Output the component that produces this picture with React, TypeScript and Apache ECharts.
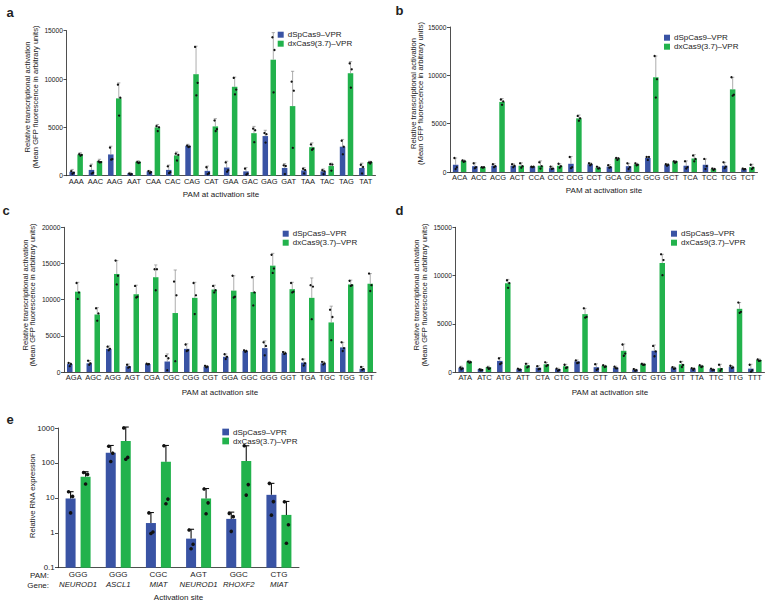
import React, { useEffect, useRef } from "react";
import * as echarts from "echarts";

const BLUE_NAME = "dSpCas9–VPR";
const GREEN_NAME = "dxCas9(3.7)–VPR";
const BLUE = "#3953a4";
const GREEN = "#22b24c";
const FONT = '"Liberation Sans", Arial, Helvetica, sans-serif';

// ---------- panel a ----------
const aCats = ["AAA","AAC","AAG","AAT","CAA","CAC","CAG","CAT","GAA","GAC","GAG","GAT","TAA","TAC","TAG","TAT"];
const aBlue = [400, 600, 2200, 250, 450, 600, 3100, 500, 850, 450, 4100, 800, 550, 450, 3000, 800];
const aBlueErr = [650, 1200, 3050, 350, 550, 1100, 3250, 1000, 1500, 850, 4700, 1250, 850, 700, 3750, 1300];
const aBlueDots = [[550,400,280],[1100,400,300],[3000,1800,1750],[300,250,200],[550,450,350],[1050,450,350],[3200,3100,3050],[950,350,250],[1450,650,500],[800,300,200],[4500,4300,3500],[1150,1000,250],[800,600,300],[650,450,250],[3700,3000,2300],[1200,900,300]];
const aGreen = [2200, 1500, 8000, 1450, 5000, 2100, 10500, 5100, 9200, 4400, 12000, 7200, 2950, 1000, 10600, 1400];
const aGreenErr = [2380, 1700, 9600, 1550, 5300, 2450, 13400, 5900, 10200, 5100, 14800, 10800, 3400, 1300, 11800, 1500];
const aGreenDots = [[2300,2250,2150],[1550,1500,1450],[9500,8150,6300],[1500,1450,1400],[5200,5100,4700],[2350,2250,1650],[13400,9700,8400],[5800,4900,4700],[10200,9000,8500],[4950,4700,3550],[14400,13000,8700],[9800,8800,2950],[3300,2800,2750],[1250,1150,600],[11700,11000,9200],[1450,1400,1350]];

// ---------- panel b ----------
const bCats = ["ACA","ACC","ACG","ACT","CCA","CCC","CCG","CCT","GCA","GCC","GCG","GCT","TCA","TCC","TCG","TCT"];
const bBlue = [750, 600, 650, 650, 550, 400, 850, 800, 550, 600, 1450, 750, 650, 750, 650, 300];
const bBlueErr = [1450, 950, 850, 850, 600, 600, 1600, 950, 750, 900, 1600, 850, 1150, 1350, 1000, 350];
const bBlueDots = [[1450,500,300],[900,500,400],[800,600,500],[800,650,500],[550,550,500],[550,350,300],[1550,500,400],[900,800,700],[700,500,450],[900,500,300],[1550,1550,1250],[800,750,650],[1100,500,350],[1350,600,300],[1000,550,400],[350,300,250]];
const bGreen = [1150, 500, 7250, 650, 650, 650, 5550, 450, 1400, 800, 9800, 1100, 1400, 300, 8550, 500];
const bGreenErr = [1250, 550, 7600, 950, 1150, 850, 5900, 550, 1500, 900, 12000, 1150, 1800, 400, 9800, 800];
const bGreenDots = [[1200,1100,1050],[500,500,450],[7500,7300,6950],[900,600,450],[1000,600,350],[850,600,450],[5800,5550,5300],[550,400,350],[1450,1400,1250],[900,750,700],[12000,9600,7700],[1100,1050,950],[1700,1350,1100],[350,300,200],[9800,8000,7900],[750,450,300]];

// ---------- panel c ----------
const cCats = ["AGA","AGC","AGG","AGT","CGA","CGC","CGG","CGT","GGA","GGC","GGG","GGT","TGA","TGC","TGG","TGT"];
const cBlue = [1100, 1200, 3200, 800, 1100, 1450, 3200, 750, 2100, 2900, 3300, 2600, 1300, 1200, 3400, 450];
const cBlueErr = [1300, 1600, 3600, 1100, 1200, 2500, 3900, 850, 2500, 3000, 4300, 2800, 1800, 1450, 4100, 750];
const cBlueDots = [[1250,1100,800],[1550,1200,1000],[3500,3200,3000],[1000,700,600],[1150,1100,1050],[2200,1900,250],[3800,3000,2900],[850,750,650],[2450,2100,1800],[3000,2900,2800],[4100,3600,2300],[2750,2600,2500],[1750,1200,900],[1400,1200,1050],[4100,3300,2900],[700,400,300]];
const cGreen = [11100, 7950, 13550, 10750, 13100, 8150, 10250, 11400, 11250, 11050, 14700, 11450, 10250, 6850, 12100, 12200];
const cGreenErr = [12400, 8900, 15400, 12000, 14800, 14100, 12400, 12000, 13300, 13200, 16400, 12400, 13000, 9100, 12700, 13600];
const cGreenDots = [[12300,11000,10100],[8800,8100,7100],[15400,13300,12100],[11900,10400,10300],[14200,14200,11300],[12500,10600,1500],[12300,10600,8000],[11900,11300,11000],[13300,10400,10300],[13100,11000,9200],[16200,14300,13700],[12300,11100,11000],[12000,11800,7300],[8600,7600,4400],[12600,12000,11900],[13600,12000,11200]];

// ---------- panel d ----------
const dCats = ["ATA","ATC","ATG","ATT","CTA","CTC","CTG","CTT","GTA","GTC","GTG","GTT","TTA","TTC","TTG","TTT"];
const dBlue = [450, 300, 1150, 300, 450, 300, 1100, 500, 450, 250, 2200, 450, 350, 300, 550, 350];
const dBlueErr = [600, 350, 1500, 350, 650, 400, 1250, 850, 600, 300, 2800, 550, 400, 350, 650, 800];
const dBlueDots = [[550,450,350],[350,300,250],[1500,1000,900],[350,300,250],[600,400,350],[350,300,200],[1200,1050,1000],[800,400,300],[550,450,400],[300,250,200],[2700,2200,1700],[500,450,400],[400,350,300],[350,300,250],[650,550,500],[750,250,100]];
const dGreen = [1100, 500, 9200, 700, 800, 600, 6000, 650, 2200, 850, 11300, 800, 650, 400, 6550, 1250];
const dGreenErr = [1200, 600, 9600, 900, 1000, 800, 6600, 700, 2900, 900, 12200, 1100, 700, 800, 7200, 1350];
const dGreenDots = [[1150,1100,1050],[550,450,400],[9600,9300,8800],[850,650,550],[1000,750,650],[750,550,500],[6600,5800,5700],[700,650,600],[2850,2000,1750],[850,850,800],[12200,11600,10100],[1050,800,600],[700,650,600],[750,300,200],[7200,6300,6200],[1300,1250,1200]];

// ---------- panel e ----------
const ePams = ["GGG", "GGG", "CGC", "AGT", "GGC", "CTG"];
const eGenes = ["NEUROD1", "ASCL1", "MIAT", "NEUROD1", "RHOXF2", "MIAT"];
const eBlue = [9.6, 196, 1.9, 0.68, 2.5, 12.2];
const eBlueErr = [15, 316, 3.8, 1.26, 3.9, 26];
const eBlueDots = [[15,11,3.7],[300,190,110],[3.7,1.05,0.95],[1.2,0.47,0.35],[3.6,2.9,1.1],[26,7.8,3.2]];
const eGreen = [40, 424, 108, 9.6, 113, 3.25];
const eGreenErr = [56, 1066, 316, 18.5, 310, 7.9];
const eGreenDots = [[53,47,25],[1000,144,127],[310,9.2,6.8],[18,7.2,3.5],[310,24,12],[7.7,1.7,0.5]];
const eTicks = [0.1, 1, 10, 100, 1000];

const Y_TITLE = "Relative transcriptional activation\n(Mean GFP fluorescence in arbitrary units)";
const X_TITLE = "PAM at activation site";

type Overlay = {
  ox: number; cap: number; stroke: string; lw: number; r: number; jit: number[];
  bar?: { w: number; color: string; base: number };
};

function makeRender(o: Overlay) {
  return (params: any, api: any) => {
    const x = api.value(0);
    const mean = api.coord([x, api.value(1)]);
    const top = api.coord([x, api.value(2)]);
    const cx = mean[0] + o.ox;
    const children: any[] = [];
    if (o.bar) {
      const b = api.coord([x, o.bar.base]);
      children.push({
        type: "rect",
        shape: { x: cx - o.bar.w / 2, y: mean[1], width: o.bar.w, height: b[1] - mean[1] },
        style: { fill: o.bar.color },
      });
    }
    children.push({ type: "line", shape: { x1: cx, y1: mean[1], x2: cx, y2: top[1] }, style: { stroke: o.stroke, lineWidth: o.lw } });
    children.push({ type: "line", shape: { x1: cx - o.cap, y1: top[1], x2: cx + o.cap, y2: top[1] }, style: { stroke: o.stroke, lineWidth: o.lw } });
    for (let i = 0; i < 3; i++) {
      const p = api.coord([x, api.value(3 + i)]);
      children.push({ type: "circle", shape: { cx: cx + o.jit[i], cy: p[1], r: o.r }, style: { fill: "#111" } });
    }
    return { type: "group", children };
  };
}

function overlayData(means: number[], errs: number[], dots: number[][]) {
  return means.map((m, i) => [i, m, errs[i], dots[i][0], dots[i][1], dots[i][2]]);
}

const axisLine = { show: true, lineStyle: { color: "#222", width: 0.8 } };

function linearPanel(idx: number, cats: string[], max: number,
  blue: number[], blueErr: number[], blueDots: number[][],
  green: number[], greenErr: number[], greenDots: number[][]) {
  const xAxis = {
    type: "category", gridIndex: idx, data: cats,
    axisLine, axisTick: { show: false },
    axisLabel: { interval: 0, fontSize: 7.5, fontFamily: FONT, color: "#222", margin: 1.5 },
  };
  const yAxis = {
    type: "value", gridIndex: idx, min: 0, max, interval: 5000,
    axisLine, axisTick: { show: true, length: 3, lineStyle: { color: "#222", width: 0.8 } },
    axisLabel: { fontSize: 6.7, fontFamily: FONT, color: "#222", margin: 3.5, formatter: (v: number) => String(v) },
    splitLine: { show: false },
  };
  const small = { cap: 1.6, stroke: "#8a8a8a", lw: 0.7, r: 1.15, jit: [-1.2, 1.2, 0] };
  const series = [
    { type: "bar", name: BLUE_NAME, xAxisIndex: idx, yAxisIndex: idx, data: blue, barWidth: 5.5, barGap: "45%", itemStyle: { color: BLUE } },
    { type: "bar", name: GREEN_NAME, xAxisIndex: idx, yAxisIndex: idx, data: green, barWidth: 5.5, barGap: "45%", itemStyle: { color: GREEN } },
    { type: "custom", name: BLUE_NAME, xAxisIndex: idx, yAxisIndex: idx, z: 5, clip: false, itemStyle: { color: BLUE },
      encode: { x: 0, y: 1 }, data: overlayData(blue, blueErr, blueDots), renderItem: makeRender({ ...small, ox: -4 }) },
    { type: "custom", name: GREEN_NAME, xAxisIndex: idx, yAxisIndex: idx, z: 5, clip: false, itemStyle: { color: GREEN },
      encode: { x: 0, y: 1 }, data: overlayData(green, greenErr, greenDots), renderItem: makeRender({ ...small, ox: 4 }) },
  ];
  return { xAxis, yAxis, series };
}

function legendAt(left: number, top: number, size: number) {
  return {
    left, top, orient: "vertical", padding: 0, itemGap: 0, icon: "rect",
    itemWidth: size, itemHeight: size, selectedMode: false,
    data: [BLUE_NAME, GREEN_NAME],
    textStyle: { fontSize: 8, fontFamily: FONT, color: "#222", lineHeight: 9, padding: [0, 0, 0, -1] },
  };
}

function txt(x: number, y: number, text: string, opts: any = {}) {
  return {
    type: "text", x, y, rotation: opts.rotation || 0, silent: true,
    style: {
      text, fill: "#222", fontFamily: FONT, fontSize: opts.fontSize || 7.6,
      fontWeight: opts.fontWeight || "normal", fontStyle: opts.fontStyle || "normal",
      align: opts.align || "center", verticalAlign: "middle", lineHeight: opts.lineHeight || 7.6,
    },
  };
}

export default function App() {
  const ref = useRef<HTMLDivElement>(null);
  useEffect(() => {
    if (!ref.current) return;
    const chart = echarts.init(ref.current, undefined, { renderer: "svg" });

    const pa = linearPanel(0, aCats, 15000, aBlue, aBlueErr, aBlueDots, aGreen, aGreenErr, aGreenDots);
    const pb = linearPanel(1, bCats, 15000, bBlue, bBlueErr, bBlueDots, bGreen, bGreenErr, bGreenDots);
    const pc = linearPanel(2, cCats, 20000, cBlue, cBlueErr, cBlueDots, cGreen, cGreenErr, cGreenDots);
    const pd = linearPanel(3, dCats, 15000, dBlue, dBlueErr, dBlueDots, dGreen, dGreenErr, dGreenDots);

    const eCats = ePams.map((p, i) => p + " " + eGenes[i]);
    const eX = {
      type: "category", gridIndex: 4, data: eCats,
      axisLine, axisTick: { show: false },
      axisLabel: {
        interval: 0, margin: 1.3, color: "#222",
        formatter: (_v: string, i: number) => `{p|${ePams[i]}}\n{g|${eGenes[i]}}`,
        rich: {
          p: { fontSize: 8, fontFamily: FONT, color: "#222", lineHeight: 10 },
          g: { fontSize: 7.8, fontFamily: FONT, fontStyle: "italic", color: "#222", lineHeight: 10 },
        },
      },
    };
    const eY = {
      type: "log", gridIndex: 4, logBase: 10, min: eTicks[0], max: eTicks[eTicks.length - 1],
      axisLine, axisTick: { show: true, length: 3, lineStyle: { color: "#222", width: 0.8 } },
      minorTick: { show: false },
      axisLabel: { fontSize: 7.8, fontFamily: FONT, color: "#222", margin: 3.5,
        formatter: (v: number) => String(eTicks.find((t) => Math.abs(t - v) / t < 1e-6) ?? v) },
      splitLine: { show: false },
    };
    const big = { cap: 3, stroke: "#111", lw: 1.1, r: 1.8, jit: [-2, 2, 0] };
    const eSeries = [
      { type: "custom", name: BLUE_NAME, xAxisIndex: 4, yAxisIndex: 4, clip: false, itemStyle: { color: BLUE },
        encode: { x: 0, y: 1 }, data: overlayData(eBlue, eBlueErr, eBlueDots),
        renderItem: makeRender({ ...big, ox: -7.5, bar: { w: 10, color: BLUE, base: eTicks[0] } }) },
      { type: "custom", name: GREEN_NAME, xAxisIndex: 4, yAxisIndex: 4, clip: false, itemStyle: { color: GREEN },
        encode: { x: 0, y: 1 }, data: overlayData(eGreen, eGreenErr, eGreenDots),
        renderItem: makeRender({ ...big, ox: 7.5, bar: { w: 10, color: GREEN, base: eTicks[0] } }) },
    ];

    const option: any = {
      animation: false,
      backgroundColor: "#fff",
      grid: [
        { left: 66.5, top: 30.7, width: 309, height: 145 },
        { left: 450, top: 27, width: 307.5, height: 145 },
        { left: 64, top: 227.3, width: 312, height: 144.7 },
        { left: 455.5, top: 227.3, width: 309, height: 144.7 },
        { left: 58, top: 428, width: 241, height: 139.7 },
      ],
      xAxis: [pa.xAxis, pb.xAxis, pc.xAxis, pd.xAxis, eX],
      yAxis: [pa.yAxis, pb.yAxis, pc.yAxis, pd.yAxis, eY],
      legend: [
        legendAt(277.7, 30.2, 6),
        legendAt(664, 33.2, 6),
        legendAt(282.7, 229.2, 6),
        legendAt(671, 229.2, 6),
        legendAt(222.3, 427.5, 6.7),
      ],
      series: [...pa.series, ...pb.series, ...pc.series, ...pd.series, ...eSeries],
      graphic: [
        txt(6.5, 12.5, "a", { fontSize: 13, fontWeight: "bold", align: "left", lineHeight: 13 }),
        txt(395.5, 10.5, "b", { fontSize: 13, fontWeight: "bold", align: "left", lineHeight: 13 }),
        txt(2.5, 210.5, "c", { fontSize: 13, fontWeight: "bold", align: "left", lineHeight: 13 }),
        txt(395.5, 210.5, "d", { fontSize: 13, fontWeight: "bold", align: "left", lineHeight: 13 }),
        txt(6.5, 419.5, "e", { fontSize: 13, fontWeight: "bold", align: "left", lineHeight: 13 }),
        txt(31.3, 97, Y_TITLE, { rotation: Math.PI / 2 }),
        txt(417, 93.5, Y_TITLE, { rotation: Math.PI / 2 }),
        txt(29, 295, Y_TITLE, { rotation: Math.PI / 2 }),
        txt(420.7, 295, Y_TITLE, { rotation: Math.PI / 2 }),
        txt(32.3, 496, "Relative RNA expression", { rotation: Math.PI / 2 }),
        txt(221, 194.5, X_TITLE, { fontSize: 8 }),
        txt(604, 190.5, X_TITLE, { fontSize: 8 }),
        txt(220, 392, X_TITLE, { fontSize: 8 }),
        txt(610, 392, X_TITLE, { fontSize: 8 }),
        txt(178.5, 597, "Activation site", { fontSize: 8 }),
        txt(49, 575, "PAM:", { fontSize: 8, align: "right", lineHeight: 6 }),
        txt(49, 585, "Gene:", { fontSize: 8, align: "right", lineHeight: 6 }),
      ],
    };
    chart.setOption(option);
    return () => chart.dispose();
  }, []);
  return <div ref={ref} style={{ position: "fixed", left: 0, top: 0, width: 766, height: 604, background: "#fff" }} />;
}
